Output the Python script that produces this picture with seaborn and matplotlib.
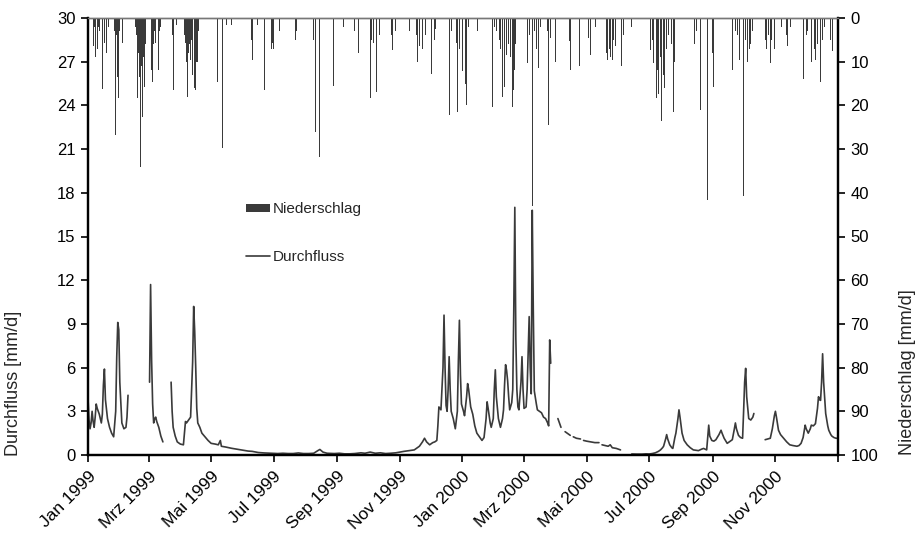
import numpy as np
import pandas as pd
import matplotlib
matplotlib.use("Agg")
import matplotlib.pyplot as plt
import seaborn as sns
from matplotlib.patches import Patch
from matplotlib.lines import Line2D

# Start of the record; all day numbers count from here
start = pd.Timestamp("1999-01-01")
end = pd.Timestamp("2001-01-01")

# Daily discharge [mm/d] (NaN marks missing records)
q_day = [0, 1, 2, 3, 4, 5, 6, 7, 8, 9, 11, 13, 14, 15, 16, 17, 19, 21, 23, 25, 27, 28, 29, 30, 31, 33, 35, 37, 38, 39, 40,
         60, 61, 62, 63, 64, 65, 66, 67, 69, 71, 73, 74,
         81, 82, 83, 85, 87, 90, 93, 95, 96, 98, 100, 102, 103, 104, 105, 106, 107, 109, 111, 114, 117, 120, 124, 127,
         129, 130, 134, 140, 145, 150, 156, 160, 166, 172, 178, 185, 190, 195, 200, 205, 210, 215, 220, 224, 226, 229,
         233, 240, 245, 250, 255, 260, 266, 270, 275, 280, 285, 290, 295, 300, 304, 308, 313, 318, 323, 326, 328, 330,
         333, 336, 338, 340, 341, 342, 344, 346, 347, 348, 349, 350, 351, 352, 353, 354, 356, 358, 360, 361, 362, 363,
         364, 366, 367, 369, 370, 371, 373, 375, 377, 379, 382, 384, 386, 388, 389, 390, 392, 393, 395, 396, 397, 398,
         400, 402, 404, 405, 406, 407, 408, 409, 410, 411, 413, 414, 415, 416, 417, 418, 419, 420, 422, 423, 424, 425,
         427, 428, 429, 430, 431, 432, 433, 434, 435, 437, 438, 440, 442, 444, 446, 448, 449, 450, 451, 452,
         458, 460, 461, 462,
         465, 468, 470, 471, 473, 476, 480, 481, 483, 486, 490, 494, 498, 499, 501, 504, 507, 509, 511, 515, 519, 520,
         530, 535, 540, 544, 547, 550, 553, 556, 558, 560, 561, 563, 564, 565, 567, 569, 570, 572, 573, 575, 576, 577,
         579, 581, 584, 587, 590, 595, 598, 600, 603, 604, 605, 606, 608, 610, 612, 615, 617, 618, 620, 623, 626, 628,
         630, 631, 632, 634, 636, 638, 639, 640, 641, 642, 644, 646, 648, 649, 650,
         660, 665, 667, 669, 670, 671, 673, 675, 678, 681, 684, 687, 691, 693, 695, 697, 699, 700, 702, 704, 705, 707,
         709, 711, 712, 713, 714, 715, 716, 717, 719, 721, 722, 724, 725, 727, 729, 730]
q_val = [3.9, 2.4, 1.8, 2.2, 3.0, 2.3, 1.9, 2.6, 3.5, 3.2, 2.8, 2.2, 2.8, 4.8, 5.9, 3.8, 2.5, 1.9, 1.5, 1.25, 3.0, 6.7, 9.1, 8.6, 5.0, 2.2, 1.8, 1.9, 2.6, 4.1, np.nan,
         5.0, 11.7, 6.5, 3.5, 2.2, 2.5, 2.6, 2.3, 1.9, 1.3, 0.9, np.nan,
         5.0, 3.0, 1.9, 1.3, 0.9, 0.75, 0.7, 2.3, 2.2, 2.4, 2.6, 6.4, 10.2, 8.5, 6.0, 3.2, 2.2, 1.9, 1.5, 1.25, 1.0, 0.8, 0.75, 0.7,
         1.0, 0.6, 0.55, 0.46, 0.4, 0.34, 0.27, 0.25, 0.17, 0.14, 0.12, 0.1, 0.12, 0.1, 0.1, 0.14, 0.1, 0.1, 0.12, 0.3, 0.38, 0.2,
         0.12, 0.1, 0.12, 0.08, 0.08, 0.1, 0.15, 0.12, 0.2, 0.12, 0.15, 0.1, 0.12, 0.15, 0.2, 0.25, 0.3, 0.35, 0.6, 0.9, 1.15, 0.9,
         0.7, 0.85, 0.9, 1.0, 2.0, 3.3, 3.1, 6.0, 9.6, 6.0, 3.4, 3.0, 4.5, 6.75, 4.5, 3.0, 2.5, 1.8, 3.0, 6.5, 9.25, 5.5,
         3.5, 3.0, 2.7, 4.0, 4.9, 4.5, 3.3, 2.8, 2.0, 1.5, 1.2, 1.0, 1.2, 2.5, 3.65, 3.2, 2.2, 1.9, 2.5, 4.5, 5.85, 4.0,
         2.5, 1.9, 2.5, 3.1, 4.8, 6.2, 5.8, 5.1, 4.0, 3.1, 3.6, 4.5, 10.0, 17.0, 8.0, 4.5, 3.3, 3.1, 5.0, 6.75, 4.5, 3.2,
         3.3, 4.5, 7.0, 9.5, 6.0, 4.2, 16.8, 10.0, 4.4, 3.5, 3.1, 3.0, 2.9, 2.6, 2.5, 2.2, 2.0, 7.9, 6.3, np.nan,
         2.5, 2.1, 1.9, np.nan,
         1.6, 1.45, 1.35, np.nan, 1.25, 1.15, 1.1, np.nan, 1.0, 0.95, 0.9, 0.85, 0.85, np.nan, 0.7, 0.65, 0.6, 0.7, 0.5, 0.45, 0.35, np.nan,
         0.07, 0.06, 0.06, 0.08, 0.07, 0.1, 0.15, 0.25, 0.35, 0.5, 0.6, 1.1, 1.4, 1.1, 0.7, 0.5, 0.45, 1.2, 1.5, 2.5, 3.1, 2.6,
         1.5, 1.0, 0.7, 0.5, 0.35, 0.3, 0.4, 0.45, 0.35, 1.2, 2.05, 1.3, 1.0, 0.95, 1.05, 1.4, 1.7, 1.5, 1.15, 0.8, 0.95, 1.05,
         1.8, 2.2, 1.8, 1.35, 1.2, 1.15, 3.0, 5.0, 5.95, 4.0, 2.5, 2.4, 2.6, 2.85, np.nan,
         1.05, 1.15, 1.8, 2.7, 3.0, 2.6, 1.7, 1.4, 1.15, 0.9, 0.7, 0.65, 0.6, 0.65, 0.8, 1.2, 2.05, 1.8, 1.5, 1.8, 2.05, 2.0,
         2.15, 3.2, 4.0, 3.8, 3.75, 5.0, 6.95, 5.0, 2.85, 2.0, 1.7, 1.4, 1.3, 1.2, 1.15, 1.15]

# Daily precipitation [mm/d]
p_day = [3, 4, 5, 6, 7, 9, 10, 11, 14, 16, 18, 20, 26, 27, 28, 29, 30, 31, 34, 37, 40, 46, 47, 48, 49, 50, 51, 52, 53, 54,
         55, 56, 62, 63, 64, 65, 66, 69, 70, 71, 81, 82, 83, 86, 94, 95, 96, 97, 98, 99, 100, 101, 102, 104, 105, 106, 107,
         108, 113, 115, 126, 131, 135, 140, 151, 155, 156, 157, 158, 159, 160, 165, 172, 179, 180, 181, 187, 194, 195, 202,
         203, 220, 222, 226, 228, 230, 239, 249, 260, 264, 266, 267, 271, 273, 275, 276, 278, 281, 284, 296, 297, 300, 304,
         307, 311, 313, 320, 321, 323, 326, 329, 335, 338, 339, 342, 344, 346, 347, 348, 350, 352, 354, 359, 360, 362, 365,
         368, 369, 371, 380, 381, 384, 387, 388, 394, 396, 398, 401, 402, 404, 406, 408, 410, 412, 414, 415, 416, 417, 419,
         421, 423, 425, 426, 428, 430, 433, 435, 437, 439, 441, 448, 449, 451, 456, 458, 469, 470, 479, 488, 490, 495, 498,
         502, 504, 505, 506, 508, 509, 511, 512, 514, 520, 522, 530, 540, 541, 548, 550, 551, 554, 555, 556, 558, 559, 561,
         562, 564, 566, 569, 571, 572, 574, 577, 579, 591, 593, 597, 604, 609, 610, 612, 614, 628, 631, 633, 635, 639, 641,
         643, 645, 646, 648, 656, 660, 661, 663, 665, 666, 669, 676, 681, 682, 685, 689, 691, 694, 697, 700, 701, 705, 708,
         709, 711, 714, 716, 718, 724, 726, 728]
p_mm = [13, 3, 6.5, 2, 8.9, 7, 2, 3, 16.3, 5.8, 8, 2, 3, 26.8, 4, 13.4, 18.4, 3, 5.8, 10.4, 13.4, 2, 4, 18.4, 8, 13.4, 34, 11, 22.6, 9,
        15.7, 6, 11.9, 14.6, 6, 3, 5.8, 11.9, 3, 2, 8, 4, 16.5, 1.5, 4, 5.8, 10, 18, 8, 6, 9.6, 5, 13, 16, 16.5, 10, 10,
        3, 10.4, 1.5, 14.6, 29.8, 1.5, 1.5, 18, 3, 5.8, 8, 16.5, 5, 9.6, 1.5, 16.5, 7, 5.8, 7, 3, 5.8, 7, 5,
        3, 5, 26.1, 31.7, 5.8, 14.6, 15.6, 2, 3, 8, 13.4, 10, 6, 16.9, 18.4, 5, 5.8, 16.9, 4, 4, 7.3, 3, 5,
        6, 15.2, 3, 4, 10, 6.5, 7, 4, 12.8, 5, 2.5, 19.5, 9.6, 24, 8, 6.5, 5, 22.2, 3, 5.8, 21.6, 7, 12.2,
        15, 19.9, 2, 3, 5, 6, 13.4, 6, 20.3, 2, 3, 5, 7, 18, 15.7, 8.5, 6, 9, 20.3, 16.5, 12, 6, 17.5,
        8, 10, 20.7, 20.3, 10.4, 4, 43, 3, 7, 11.5, 2, 3, 24.5, 4.5, 10, 2, 5.2, 12, 11, 4.5, 8.5, 2, 8,
        15.4, 12.2, 8, 9.6, 7, 9, 9.6, 5, 6.5, 11, 4, 2, 8, 2, 7.3, 5, 10.4, 18.4, 12, 17.5, 9, 23.5, 13,
        16, 7, 4, 6, 21.5, 10, 19, 4, 5, 6, 3, 21, 41.6, 8, 15.8, 10, 16, 12, 3, 4, 9.5, 40.7, 5,
        10, 7, 6, 3, 13.4, 5, 7, 4, 10.4, 5, 7, 2, 4, 6.5, 2, 5, 6.5, 3, 14, 4, 3, 10, 7,
        9.6, 6, 14.6, 5, 2, 5, 7.5, 6]

# Axis ticks
tick_dates = ["1999-01-01", "1999-03-01", "1999-05-01", "1999-07-01", "1999-09-01", "1999-11-01",
              "2000-01-01", "2000-03-01", "2000-05-01", "2000-07-01", "2000-09-01", "2000-11-01", "2001-01-01"]
tick_labels = ["Jan 1999", "Mrz 1999", "Mai 1999", "Jul 1999", "Sep 1999", "Nov 1999",
               "Jan 2000", "Mrz 2000", "Mai 2000", "Jul 2000", "Sep 2000", "Nov 2000", ""]
q_ticks = list(range(0, 31, 3))
p_ticks = list(range(0, 101, 10))

sns.set_theme(style="ticks")
plt.rcParams["font.family"] = ["Liberation Sans", "DejaVu Sans"]

line_color = "#3a3a3a"
bar_color = "#3a3a3a"

fig = plt.figure(figsize=(9.19, 5.38), dpi=100)
ax = fig.add_axes([88 / 919, 1 - 455 / 538, 750 / 919, 437 / 538])

# Discharge as a line, broken where records are missing
q = pd.DataFrame({"datum": start + pd.to_timedelta(q_day, unit="D"), "q": q_val})
q["abschnitt"] = q["q"].isna().cumsum()
q = q.dropna()
sns.lineplot(data=q, x="datum", y="q", units="abschnitt", estimator=None,
             color=line_color, linewidth=1.2, ax=ax, legend=False)

ax.set_xlim(start, end)
ax.set_ylim(0, 30)
ax.set_yticks(q_ticks)
ax.set_xticks(pd.to_datetime(tick_dates))
ax.set_xticklabels(tick_labels, rotation=45, ha="right", va="top", rotation_mode="anchor")
ax.set_xlabel("")
ax.set_ylabel("Durchfluss [mm/d]", fontsize=13)
ax.yaxis.set_label_coords(-0.088, 0.165)

# Precipitation hanging from the top on an inverted right axis
ax2 = ax.twinx()
ax2.bar(start + pd.to_timedelta(p_day, unit="D"), p_mm, width=0.75, color=bar_color, linewidth=0)
ax2.set_ylim(100, 0)
ax2.set_yticks(p_ticks)
ax2.set_ylabel("Niederschlag [mm/d]", fontsize=13)
ax2.yaxis.set_label_coords(1.081, 0.19)

for a in (ax, ax2):
    a.tick_params(axis="both", direction="out", length=5, width=1.2, labelsize=12, colors="black", pad=4)
    for side in ("left", "right", "bottom"):
        a.spines[side].set_color("black")
        a.spines[side].set_linewidth(1.6)
    a.spines["top"].set_color("#777777")
    a.spines["top"].set_linewidth(1.0)
    a.spines["top"].set_visible(True)
    a.spines["right"].set_visible(True)
ax.tick_params(axis="x", labelsize=12.5, pad=5)

handles = [Patch(facecolor=bar_color, edgecolor="none"),
           Line2D([], [], color=line_color, linewidth=1.2)]
ax.legend(handles, ["Niederschlag", "Durchfluss"], loc="upper left", bbox_to_anchor=(0.21, 0.578),
          frameon=False, fontsize=11, labelspacing=2.2, handlelength=1.6, handleheight=0.45,
          handletextpad=0.2, borderpad=0, borderaxespad=0)

fig.savefig("out.png", dpi=100)
